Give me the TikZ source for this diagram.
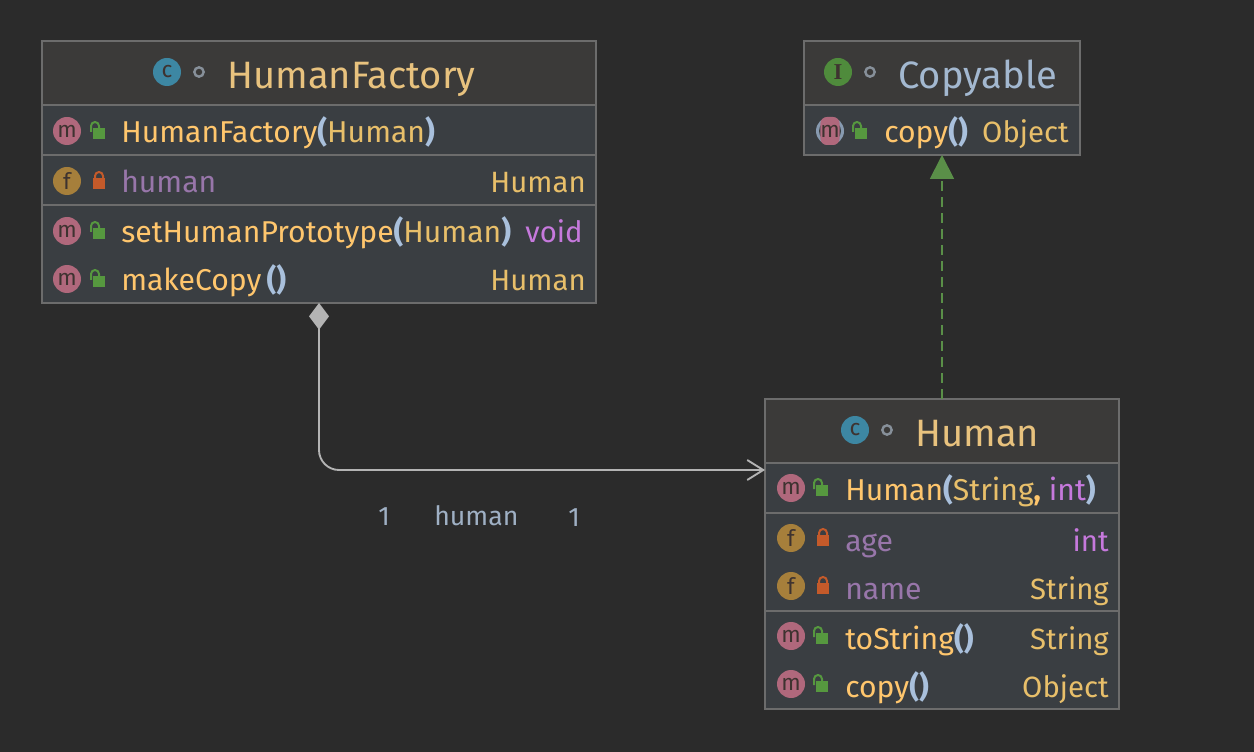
\documentclass[tikz,border=0pt]{standalone}
\usepackage{fontspec}
\setmainfont{Fira Sans}
\newfontfamily\iconserif{Liberation Serif}
\usepackage{tikz}
\usetikzlibrary{arrows.meta, positioning, shapes.geometric}
\definecolor{cBack}{HTML}{2B2B2B}
\definecolor{cHead}{HTML}{3B3A39}
\definecolor{cRow}{HTML}{3A3E42}
\definecolor{cBorder}{HTML}{6C6C6C}
\definecolor{cTitle}{HTML}{E8C27E}
\definecolor{cIface}{HTML}{A3B8D0}
\definecolor{cMethod}{HTML}{FFC66D}
\definecolor{cParam}{HTML}{A9C0DC}
\definecolor{cType}{HTML}{E8BF6A}
\definecolor{cField}{HTML}{9876AA}
\definecolor{cPrim}{HTML}{C679DD}
\definecolor{cLabel}{HTML}{9FB0C4}
\definecolor{cIconC}{HTML}{3D87A3}
\definecolor{cIconI}{HTML}{4F8B3C}
\definecolor{cIconM}{HTML}{B0687C}
\definecolor{cIconF}{HTML}{A67F3B}
\definecolor{cIconTxt}{HTML}{3E3330}
\definecolor{cLockO}{HTML}{56983F}
\definecolor{cLockC}{HTML}{C45A2A}
\definecolor{cDot}{HTML}{87909A}
\definecolor{cLine}{HTML}{B4B4B4}
\definecolor{cDash}{HTML}{5A8F48}
\newcommand{\mtd}[1]{{\color{cMethod}#1}}
\newcommand{\prn}[1]{{\color{cParam}\bfseries #1}}
\tikzset{
  compart/.style={rectangle, draw=cBorder, line width=1.1pt, outer sep=0pt, inner sep=0pt},
  headbox/.style={compart, fill=cHead},
  rowbox/.style={compart, fill=cRow},
  rowtext/.style={inner sep=0pt, anchor=base west, yshift=-1pt, font=\fontsize{22.6}{26}\selectfont},
  typetext/.style={inner sep=0pt, anchor=base east, yshift=-1pt, font=\fontsize{22}{26}\selectfont, text=cType},
  fieldtext/.style={rowtext, text=cField},
  titletext/.style={inner sep=0pt, anchor=base west, yshift=-1.2pt, font=\fontsize{28.6}{32}\selectfont, text=cTitle},
  labeltext/.style={inner sep=0pt, anchor=base west, yshift=-0.75pt, font=\fontsize{20}{24}\selectfont, text=cLabel},
  icon/.style={circle, minimum size=21pt, inner sep=0pt, text=cIconTxt, font=\fontsize{17}{17}\selectfont},
  iconm/.style={icon, fill=cIconM},
  iconf/.style={icon, fill=cIconF},
  iconc/.style={icon, fill=cIconC},
  iconi/.style={icon, fill=cIconI},
  dotmark/.style={circle, draw=cDot, line width=1.8pt, minimum size=7pt, inner sep=0pt},
  assoc/.style={{Diamond[length=20pt,width=15pt,fill=cLine]}-{Straight Barb[length=12pt,width=15pt]}, draw=cLine, line width=1.4pt, rounded corners=15pt},
  realize/.style={-{Triangle[length=18pt,width=18pt,fill=cDash]}, draw=cDash, line width=1.4pt, dash pattern=on 7.5pt off 4.5pt},
  lockopen/.pic={
    \fill[cLockO] (-6,-5) rectangle (6,6);
    \draw[cLockO, line width=1.5pt] (-8,-1) -- (-8,-7) arc[start angle=180, end angle=0, x radius=4, y radius=-4] -- (0,-5);
  },
  lockclosed/.pic={
    \fill[cLockC] (-6,-5) rectangle (6,6);
    \draw[cLockC, line width=1.5pt] (-4,-5) -- (-4,-7) arc[start angle=180, end angle=0, x radius=4, y radius=-4] -- (4,-5);
  }
}
\begin{document}
\begin{tikzpicture}[x=0.75pt, y=-0.75pt]
  \fill[cBack] (0,0) rectangle (1254,752);
  \useasboundingbox (0,0) rectangle (1254,752);

  % HumanFactory
  \node[headbox, anchor=north west, minimum width=415.5pt, minimum height=48pt] (factory_head) at (42,41) {};
  \node[rowbox, below=0pt of factory_head, minimum width=415.5pt, minimum height=37.5pt] (factory_ctor) {};
  \node[rowbox, below=0pt of factory_ctor, minimum width=415.5pt, minimum height=37.5pt] (factory_attr) {};
  \node[rowbox, below=0pt of factory_attr, minimum width=415.5pt, minimum height=73.5pt] (factory_oper) {};

  \node[iconc] (factory_c) at (167,72) {c};
  \node[dotmark] (factory_dot) at (199,72) {};
  \node[titletext] (factory_name) at (227,87) {HumanFactory};

  \node[iconm] (factory_m1) at (67,131) {m};
  \pic at (99,133) {lockopen};
  \node[rowtext] (factory_t1) at (121,141) {\mtd{HumanFactory}\prn{(}{\color{cType}Human}\prn{)}};

  \node[iconf] (factory_f1) at (67,181) {f};
  \pic at (99,183) {lockclosed};
  \node[fieldtext] (factory_t2) at (121,191) {human};
  \node[typetext] (factory_r2) at (586,191) {Human};

  \node[iconm] (factory_m2) at (67,231) {m};
  \pic at (99,233) {lockopen};
  \node[rowtext] (factory_t3) at (121,241) {\mtd{setHumanPrototype}\prn{(}{\color{cType}Human}\prn{)}};
  \node[typetext, text=cPrim] (factory_r3) at (583,241) {void};

  \node[iconm] (factory_m3) at (67,279) {m};
  \pic at (99,281) {lockopen};
  \node[rowtext] (factory_t4) at (121,289) {\mtd{makeCopy}\,\prn{()}};
  \node[typetext] (factory_r4) at (586,289) {Human};

  % Copyable
  \node[headbox, anchor=north west, minimum width=207pt, minimum height=48pt] (copyable_head) at (804,41) {};
  \node[rowbox, below=0pt of copyable_head, minimum width=207pt, minimum height=37.5pt] (copyable_oper) {};

  \node[iconi] (copyable_i) at (838,72) {\iconserif\bfseries I};
  \node[dotmark] (copyable_dot) at (870,72) {};
  \node[titletext, text=cIface] (copyable_name) at (898,87) {Copyable};

  \node[circle, fill=cParam!80!black, minimum size=21pt, inner sep=0pt] (copyable_ring) at (830,131) {};
  \node[circle, fill=cRow, minimum size=16.5pt, inner sep=0pt] (copyable_gap) at (830,131) {};
  \node[rectangle, rounded corners=5pt, fill=cIconM, minimum width=13pt, minimum height=21pt, inner sep=0pt, text=cIconTxt, font=\fontsize{17}{17}\selectfont] (copyable_m1) at (830,131) {m};
  \pic at (861,133) {lockopen};
  \node[rowtext] (copyable_t1) at (884,141) {\mtd{copy}\prn{()}};
  \node[typetext] (copyable_r1) at (1069,141) {Object};

  % Human
  \node[headbox, anchor=north west, minimum width=265.5pt, minimum height=48pt] (human_head) at (765,399) {};
  \node[rowbox, below=0pt of human_head, minimum width=265.5pt, minimum height=37.5pt] (human_ctor) {};
  \node[rowbox, below=0pt of human_ctor, minimum width=265.5pt, minimum height=73.5pt] (human_attr) {};
  \node[rowbox, below=0pt of human_attr, minimum width=265.5pt, minimum height=73.5pt] (human_oper) {};

  \node[iconc] (human_c) at (855,430) {c};
  \node[dotmark] (human_dot) at (887,430) {};
  \node[titletext] (human_name) at (915,445) {Human};

  \node[iconm] (human_m1) at (791,488) {m};
  \pic at (822,490) {lockopen};
  \node[rowtext] (human_t1) at (845,499) {\mtd{Human}\prn{(}{\color{cType}String}{\color{cMethod}\bfseries,} {\color{cPrim}int}\prn{)}};

  \node[iconf] (human_f1) at (791,538) {f};
  \pic at (823,540) {lockclosed};
  \node[fieldtext] (human_t2) at (845,550) {age};
  \node[typetext, text=cPrim] (human_r2) at (1109,550) {int};

  \node[iconf] (human_f2) at (791,586) {f};
  \pic at (823,588) {lockclosed};
  \node[fieldtext] (human_t3) at (845,598) {name};
  \node[typetext] (human_r3) at (1109,598) {String};

  \node[iconm] (human_m2) at (791,636) {m};
  \pic at (822,638) {lockopen};
  \node[rowtext] (human_t4) at (845,648) {\mtd{toString}\prn{()}};
  \node[typetext] (human_r4) at (1109,648) {String};

  \node[iconm] (human_m3) at (791,684) {m};
  \pic at (822,686) {lockopen};
  \node[rowtext] (human_t5) at (845,696) {\mtd{copy}\prn{()}};
  \node[typetext] (human_r5) at (1109,696) {Object};

  % Labels
  \node[labeltext] (label_one_a) at (378,524) {1};
  \node[labeltext] (label_role) at (434,524) {human};
  \node[labeltext] (label_one_b) at (568,525) {1};

  % Connectors
  \coordinate (human_in) at (human_head.west |- 0,470);
  \draw[assoc] (factory_oper.south) |- (human_in);
  \draw[realize] (human_head.north) -- (copyable_oper.south);
\end{tikzpicture}
\end{document}
